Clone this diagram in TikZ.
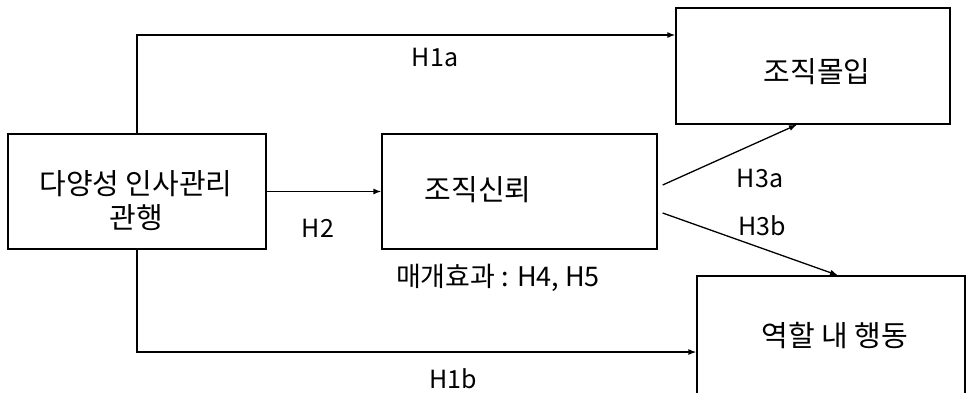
\documentclass[tikz,border=0pt]{standalone}
\usepackage{fontspec}
\setmainfont{Noto Sans CJK KR}
\usetikzlibrary{arrows.meta,calc}
\begin{document}
\begin{tikzpicture}[x=1pt,y=-1pt,
  box/.style={draw,line width=1.3pt,inner sep=0pt},
  txt/.style={font=\fontsize{29}{34}\selectfont,inner sep=0pt,align=center},
  lab/.style={font=\fontsize{25}{28}\selectfont,inner sep=0pt},
  arr/.style={line width=1.3pt,-{Latex[length=8pt,width=6pt]}},
  ln/.style={line width=1.3pt}]
\useasboundingbox (0,0) rectangle (967,392);
% boxes
\node[box,minimum width=258pt,minimum height=115pt] (L) at (137,191.5) {};
\node[box,minimum width=275pt,minimum height=115pt] (M) at (519.5,191.5) {};
\node[box,minimum width=274pt,minimum height=116pt] (T) at (813,66) {};
\node[box,minimum width=268pt,minimum height=130pt] (B) at (831,341) {};
% box texts
\node[txt] (Lt) at (136,201) {다양성 인사관리\\관행};
\node[txt] (Mt) at (478,190) {조직신뢰};
\node[txt] (Tt) at (817,72) {조직몰입};
\node[txt] (Bt) at (835,336) {역할 내 행동};
% helper coordinates
\coordinate (h1a) at (0,35);
\coordinate (h1b) at (0,352);
% connectors
\draw[arr] (L.north) |- (T.west |- h1a);
\draw[arr] (L.south) |- (B.west |- h1b);
\draw[arr] (L.east) -- (M.west);
\draw[arr] ($(M.east)+(5,-6.5)$) -- ($(T.south)+(-16,0)$);
\draw[arr] ($(M.east)+(5,21.5)$) -- ($(B.north)+(7,0)$);
% labels
\node[lab] (l1a) at (435,57) {H1a};
\node[lab] (l1b) at (453,379) {H1b};
\node[lab] (l2) at (318,228) {H2};
\node[lab] (l3a) at (760,178) {H3a};
\node[lab] (l3b) at (762,226) {H3b};
\node[lab,font=\fontsize{27}{30}\selectfont] (med) at (498,278) {매개효과 : H4, H5};
\end{tikzpicture}
\end{document}
